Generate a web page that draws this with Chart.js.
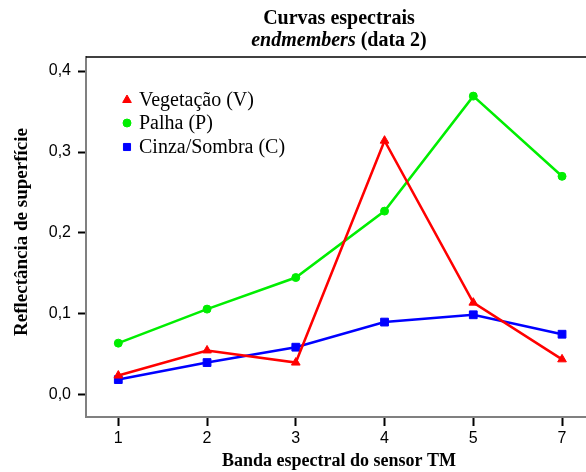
<!DOCTYPE html>
<html>
<head>
<meta charset="utf-8">
<script src="https://cdn.jsdelivr.net/npm/chart.js@4"></script>
<style>
  html, body { margin: 0; padding: 0; background: #fff; }
  #box { width: 586px; height: 472px; }
</style>
</head>
<body>
<div id="box"><canvas id="grafico" width="586" height="472"></canvas></div>
<script>
// bandas do sensor TM e reflectância de cada endmember
const bands = ['1', '2', '3', '4', '5', '7'];
const vegetacao = [0.024, 0.055, 0.040, 0.314, 0.114, 0.044];
const palha = [0.064, 0.106, 0.145, 0.227, 0.369, 0.270];
const cinza = [0.019, 0.040, 0.059, 0.090, 0.099, 0.075];
const yTicks = [0, 0.1, 0.2, 0.3, 0.4];

const serif = '"Liberation Serif", "Times New Roman", serif';
const sans = '"Liberation Sans", Arial, sans-serif';

function pontos(vals) {
    return vals.map((v, i) => ({ x: i, y: v }));
}

// título, rótulos dos eixos, legenda e borda superior
const extras = {
    id: 'extras',
    afterDraw(chart) {
        const ctx = chart.ctx;
        const area = chart.chartArea;
        ctx.save();

        // borda superior
        ctx.strokeStyle = '#000';
        ctx.lineWidth = 1.5;
        ctx.beginPath();
        ctx.moveTo(area.left, area.top);
        ctx.lineTo(area.right, area.top);
        ctx.stroke();

        // título em duas linhas
        const cx = 339;
        ctx.fillStyle = '#000';
        ctx.textBaseline = 'alphabetic';
        ctx.textAlign = 'center';
        ctx.font = 'bold 20px ' + serif;
        ctx.fillText('Curvas espectrais', cx, 24);
        ctx.textAlign = 'left';
        ctx.font = 'italic bold 20px ' + serif;
        const w1 = ctx.measureText('endmembers').width;
        ctx.font = 'bold 20px ' + serif;
        const w2 = ctx.measureText(' (data 2)').width;
        let x0 = cx - (w1 + w2) / 2;
        ctx.font = 'italic bold 20px ' + serif;
        ctx.fillText('endmembers', x0, 46);
        ctx.font = 'bold 20px ' + serif;
        ctx.fillText(' (data 2)', x0 + w1, 46);

        // títulos dos eixos
        ctx.textAlign = 'center';
        ctx.font = 'bold 18px ' + serif;
        ctx.fillText('Banda espectral do sensor TM', 339, 466);
        ctx.save();
        ctx.translate(22, 232);
        ctx.rotate(-Math.PI / 2);
        ctx.textBaseline = 'middle';
        ctx.font = 'bold 19px ' + serif;
        ctx.fillText('Reflectância de superfície', 0, 0);
        ctx.restore();

        // legenda
        ctx.textAlign = 'left';
        ctx.textBaseline = 'middle';
        ctx.font = '20px ' + serif;
        const rowY = [100, 123, 147];
        chart.data.datasets.forEach((ds, i) => {
            ctx.fillStyle = ds.borderColor;
            ctx.strokeStyle = ds.borderColor;
            ctx.lineWidth = 1;
            Chart.helpers.drawPoint(ctx, {
                pointStyle: ds.pointStyle,
                radius: ds.legendRadius,
                rotation: 0,
                borderWidth: 1
            }, 127, rowY[i]);
            ctx.fillStyle = '#000';
            ctx.fillText(ds.label, 139, rowY[i] + 1);
        });
        ctx.restore();
    }
};

new Chart(document.getElementById('grafico'), {
    type: 'line',
    data: {
        datasets: [
            {
                label: 'Vegetação (V)',
                data: pontos(vegetacao),
                borderColor: '#ff0000',
                backgroundColor: '#ff0000',
                pointStyle: 'triangle',
                pointRadius: 5,
                legendRadius: 5
            },
            {
                label: 'Palha (P)',
                data: pontos(palha),
                borderColor: '#00ee00',
                backgroundColor: '#00ee00',
                pointStyle: 'circle',
                pointRadius: 4,
                legendRadius: 4
            },
            {
                label: 'Cinza/Sombra (C)',
                data: pontos(cinza),
                borderColor: '#0000ff',
                backgroundColor: '#0000ff',
                pointStyle: 'rect',
                pointRadius: 5.5,
                legendRadius: 5
            }
        ]
    },
    options: {
        responsive: false,
        animation: false,
        devicePixelRatio: 1,
        elements: {
            line: { borderWidth: 2.5, tension: 0 },
            point: { borderWidth: 1, hoverRadius: 5 }
        },
        layout: { autoPadding: false, padding: { top: 57, right: 0, left: 0, bottom: 0 } },
        plugins: {
            legend: { display: false },
            tooltip: { enabled: false }
        },
        scales: {
            x: {
                type: 'linear',
                min: -0.364,
                max: 5.27,
                afterFit: s => { s.height = 55; s.paddingLeft = 0; s.paddingRight = 0; },
                afterBuildTicks: s => { s.ticks = bands.map((b, i) => ({ value: i })); },
                border: { color: '#808080', width: 2 },
                grid: { drawOnChartArea: false, drawTicks: true, tickLength: 9, tickColor: '#000', tickWidth: 2 },
                ticks: {
                    callback: v => bands[v],
                    color: '#000',
                    padding: 3,
                    font: { family: sans, size: 16 }
                }
            },
            y: {
                min: -0.0272,
                max: 0.4173,
                afterFit: s => { s.width = 86; s.paddingTop = 0; s.paddingBottom = 0; },
                afterBuildTicks: s => { s.ticks = yTicks.map(v => ({ value: v })); },
                border: { color: '#808080', width: 2 },
                grid: { drawOnChartArea: false, drawTicks: true, tickLength: 8, tickColor: '#000', tickWidth: 2 },
                ticks: {
                    callback: v => v.toFixed(1).replace('.', ','),
                    color: '#000',
                    padding: 7,
                    font: { family: sans, size: 16 }
                }
            }
        }
    },
    plugins: [extras]
});
</script>
</body>
</html>
